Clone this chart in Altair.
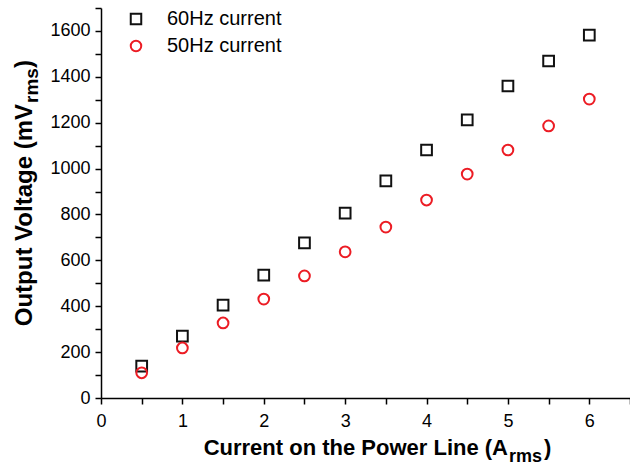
import altair as alt
import pandas as pd

current = [0.5, 1.0, 1.5, 2.0, 2.5, 3.0, 3.5, 4.0, 4.5, 5.0, 5.5, 6.0]
v60 = [139, 270, 405, 536, 676, 806, 946, 1081, 1212, 1360, 1469, 1582]
v50 = [110, 218, 327, 431, 532, 637, 745, 863, 976, 1081, 1186, 1303]
series = ["60Hz current", "50Hz current"]
colors = ["#111111", "#ec1c24"]
shapes = ["square", "circle"]
x_ticks = [i * 0.5 for i in range(14)]
y_ticks = list(range(0, 1701, 100))

df = pd.DataFrame({
    "current": current + current,
    "voltage": v60 + v50,
    "series": [series[0]] * len(current) + [series[1]] * len(current),
})

FONT = "Liberation Sans"

legend = alt.Legend(
    title=None, orient="none", legendX=25, legendY=1, padding=0,
    labelFontSize=20, labelFont=FONT, labelColor="#000000",
    symbolSize=110, symbolStrokeWidth=2, rowPadding=7, labelOffset=21,
)

axis_common = dict(
    title="", grid=False, domainColor="#000000", domainWidth=1.5,
    tickColor="#000000", tickWidth=1.5, tickSize=6,
    labelFont=FONT, labelFontSize=18, labelColor="#000000",
    labelFlush=False, labelOverlap=False,
)

points = alt.Chart(df).mark_point(filled=False, strokeWidth=2, size=115, opacity=1).encode(
    x=alt.X("current:Q",
            scale=alt.Scale(domain=[0, 6.5], nice=False),
            axis=alt.Axis(values=x_ticks,
                          labelExpr="datum.value % 1 == 0 ? format(datum.value, 'd') : ''",
                          labelPadding=8, **axis_common)),
    y=alt.Y("voltage:Q",
            scale=alt.Scale(domain=[0, 1700], nice=False),
            axis=alt.Axis(values=y_ticks,
                          labelExpr="datum.value % 200 == 0 ? format(datum.value, 'd') : ''",
                          labelPadding=5, **axis_common)),
    color=alt.Color("series:N", scale=alt.Scale(domain=series, range=colors), legend=legend),
    shape=alt.Shape("series:N", scale=alt.Scale(domain=series, range=shapes), legend=legend),
)

one = pd.DataFrame({"k": [0]})

def label(text, x, y, size, align, angle=0):
    return alt.Chart(one).mark_text(
        text=text, font=FONT, fontSize=size, fontWeight="bold", color="#000000",
        align=align, baseline="alphabetic", angle=angle,
    ).encode(x=alt.value(x), y=alt.value(y))

x_title = [
    label("Current on the Power Line (A", 407, 447, 22, "right"),
    label("rms", 408, 454, 18, "left"),
    label(")", 443, 447, 22, "left"),
]
y_title = [
    label("Output Voltage (mV", -69, 96, 24, "right", 270),
    label("rms", -63, 95, 19, "left", 270),
    label(")", -69, 60, 24, "left", 270),
]

chart = alt.layer(points, *x_title, *y_title).properties(
    width=529, height=390,
    padding={"left": 101, "top": 8, "right": 0, "bottom": 67},
    autosize="none",
).configure_view(stroke=None)

chart.save("out.html", embed_options={"renderer": "svg", "actions": False})
